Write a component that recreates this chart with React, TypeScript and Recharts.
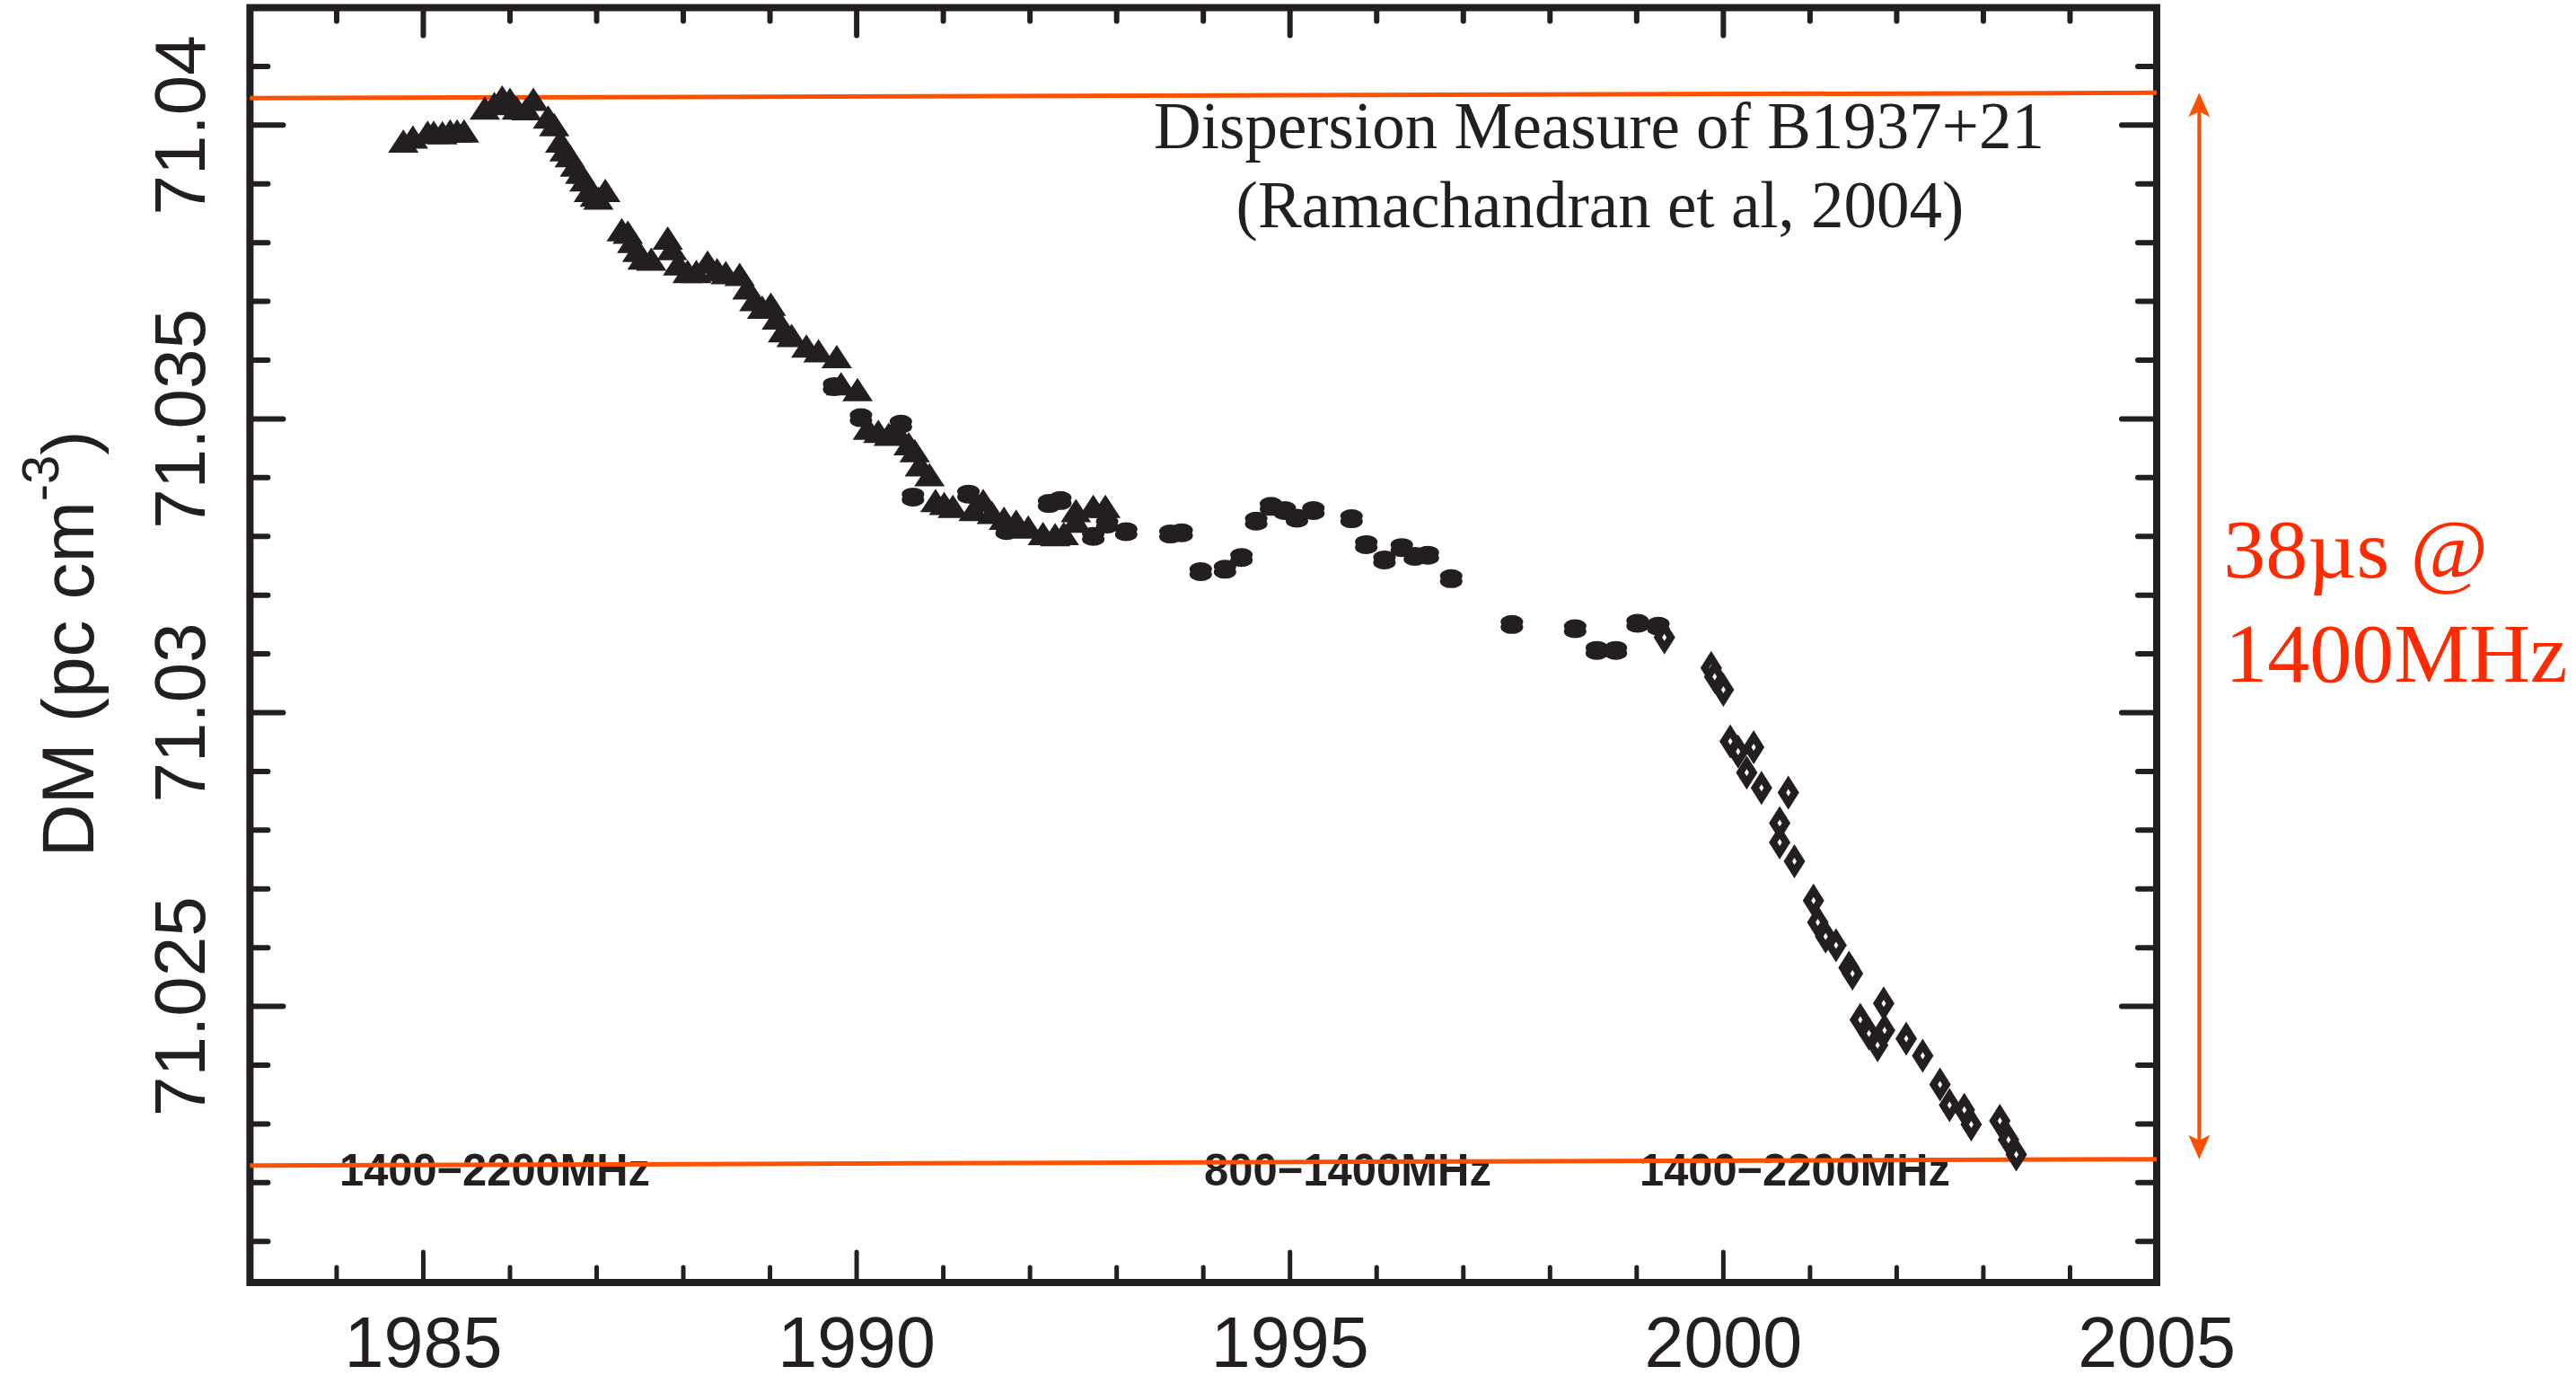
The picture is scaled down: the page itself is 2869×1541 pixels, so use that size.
import React from 'react';
import { ScatterChart, Scatter, XAxis, YAxis, ReferenceLine, ReferenceArea } from 'recharts';

// 1400-2200 MHz, first campaign (filled triangles)
const triYear = [
  1984.77, 1984.88, 1985.05, 1985.12, 1985.22, 1985.31, 1985.39, 1985.47, 1985.71, 1985.82,
  1985.91, 1986.0, 1986.08, 1986.19, 1986.27, 1986.44, 1986.51, 1986.58, 1986.63, 1986.69,
  1986.75, 1986.81, 1986.86, 1986.91, 1986.98, 1987.02, 1987.1, 1987.29, 1987.36, 1987.41,
  1987.47, 1987.53, 1987.63, 1987.82, 1987.87, 1987.94, 1988.05, 1988.15, 1988.28, 1988.39,
  1988.49, 1988.65, 1988.74, 1988.82, 1988.91, 1989.01, 1989.08, 1989.15, 1989.25, 1989.42,
  1989.56, 1989.77, 1989.82, 1990.01, 1990.13, 1990.25, 1990.37, 1990.48, 1990.6, 1990.67,
  1990.73, 1990.84, 1990.91, 1991.01, 1991.11, 1991.35, 1991.46, 1991.56, 1991.7, 1991.84,
  1991.98, 1992.15, 1992.29, 1992.39, 1992.53, 1992.53, 1992.73, 1992.87,
];
const triDM = [
  71.03973, 71.0398, 71.03988, 71.03988, 71.03987, 71.0399, 71.0399, 71.0399, 71.04029, 71.04037,
  71.04048, 71.04044, 71.04029, 71.04028, 71.04044, 71.04014, 71.04001, 71.03973, 71.03958, 71.03948,
  71.03932, 71.0392, 71.03907, 71.03889, 71.03881, 71.03876, 71.03889, 71.03822, 71.03818, 71.03802,
  71.03787, 71.03774, 71.03772, 71.03808, 71.0379, 71.03764, 71.03751, 71.03751, 71.03767, 71.03754,
  71.03749, 71.03746, 71.03723, 71.03703, 71.0369, 71.03695, 71.03672, 71.0365, 71.03642, 71.03624,
  71.03616, 71.03606, 71.0356, 71.0355, 71.03484, 71.03479, 71.03474, 71.03476, 71.03458, 71.03446,
  71.03422, 71.03405, 71.03361, 71.03356, 71.03351, 71.03346, 71.03361, 71.03341, 71.03331, 71.03326,
  71.03316, 71.03305, 71.03303, 71.03305, 71.03344, 71.03326, 71.03351, 71.03351,
];

// 800-1400 MHz (filled dots)
const dotYear = [
  1989.74, 1990.05, 1990.51, 1990.65, 1991.29, 1991.73, 1992.22, 1992.35, 1992.73, 1992.89,
  1993.11, 1993.62, 1993.75, 1993.97, 1994.25, 1994.44, 1994.61, 1994.78, 1994.94, 1995.08,
  1995.27, 1995.71, 1995.88, 1996.09, 1996.29, 1996.44, 1996.59, 1996.86, 1997.56, 1998.29,
  1998.54, 1998.76, 1999.01, 1999.25,
];
const dotDM = [
  71.03555, 71.03502, 71.03491, 71.03367, 71.03372, 71.0331, 71.03356, 71.03361, 71.033, 71.03321,
  71.03308, 71.03304, 71.03306, 71.0324, 71.03244, 71.03264, 71.03326, 71.03351, 71.03344, 71.03331,
  71.03344, 71.0333, 71.03286, 71.0326, 71.03281, 71.03266, 71.03268, 71.03228, 71.0315, 71.03143,
  71.03106, 71.03106, 71.03152, 71.03147,
];

// 1400-2200 MHz, second campaign (open diamonds)
const dmdYear = [
  1999.32, 1999.86, 1999.9, 2000.0, 2000.08, 2000.17, 2000.35, 2000.27, 2000.44, 2000.75,
  2000.65, 2000.65, 2000.82, 2001.04, 2001.09, 2001.18, 2001.3, 2001.45, 2001.49, 2001.58,
  2001.68, 2001.78, 2001.85, 2001.86, 2002.11, 2002.3, 2002.5, 2002.61, 2002.78, 2002.86,
  2003.19, 2003.29, 2003.38,
];
const dmdDM = [
  71.03128, 71.03076, 71.03061, 71.03039, 71.02951, 71.02934, 71.02941, 71.02898, 71.02872, 71.02864,
  71.02812, 71.02779, 71.02747, 71.0268, 71.02643, 71.02619, 71.02604, 71.02566, 71.02556, 71.02477,
  71.02454, 71.02434, 71.02505, 71.02459, 71.02445, 71.02416, 71.02367, 71.02332, 71.02324, 71.02299,
  71.02305, 71.02273, 71.02248,
];

const xDomain = [1983, 2005];
const yDomain = [71.0203, 71.042];
const xTicks = [
  1984, 1985, 1986, 1987, 1988, 1989, 1990, 1991, 1992, 1993, 1994,
  1995, 1996, 1997, 1998, 1999, 2000, 2001, 2002, 2003, 2004, 2005,
];
const yTicks = [
  71.021, 71.022, 71.023, 71.024, 71.025, 71.026, 71.027, 71.028, 71.029, 71.03, 71.031,
  71.032, 71.033, 71.034, 71.035, 71.036, 71.037, 71.038, 71.039, 71.04, 71.041,
];
const yMajor = [71.025, 71.03, 71.035, 71.04];
const yMajorLabels = ['71.025', '71.03', '71.035', '71.04'];

// edges of the 38 us band (left end, right end) and the arrow position
const bandTop = [71.04046, 71.04055];
const bandBottom = [71.02229, 71.0224];
const arrowYear = 2005.49;

const bandLabels = ['1400\u22122200MHz', '800\u22121400MHz', '1400\u22122200MHz'];

const ink = '#231f20';
const orange = '#ff5000';
const sans = "'Liberation Sans', Arial, sans-serif";
const serif = "'Liberation Serif', 'Times New Roman', serif";

const triangles = triYear.map((x, i) => ({ x, y: triDM[i] }));
const dots = dotYear.map((x, i) => ({ x, y: dotDM[i] }));
const diamonds = dmdYear.map((x, i) => ({ x, y: dmdDM[i] }));

const isMajorY = (v: number) => yMajor.findIndex((m) => Math.abs(m - v) < 1e-7);

const BottomTick = ({ x, y, payload }: any) => {
  const major = payload.value % 5 === 0;
  return (
    <g>
      <line x1={x} y1={y} x2={x} y2={y - (major ? 34 : 17)} stroke={ink} strokeWidth={5} strokeLinecap="round" />
      {major && (
        <text x={x} y={y + 94} textAnchor="middle" fontSize={79} fontFamily={sans} fill={ink}>
          {payload.value}
        </text>
      )}
    </g>
  );
};

const TopTick = ({ x, y, payload }: any) => {
  const major = payload.value % 5 === 0;
  return <line x1={x} y1={y} x2={x} y2={y + (major ? 31 : 15)} stroke={ink} strokeWidth={6} strokeLinecap="round" />;
};

const LeftTick = ({ x, y, payload }: any) => {
  const idx = isMajorY(payload.value);
  const lx = x - 50;
  return (
    <g>
      <line x1={x} y1={y} x2={x + (idx >= 0 ? 37 : 20)} y2={y} stroke={ink} strokeWidth={6} strokeLinecap="round" />
      {idx >= 0 && (
        <text
          x={lx}
          y={y}
          transform={`rotate(-90 ${lx} ${y})`}
          textAnchor="middle"
          fontSize={80}
          fontFamily={sans}
          fill={ink}
        >
          {yMajorLabels[idx]}
        </text>
      )}
    </g>
  );
};

const RightTick = ({ x, y, payload }: any) => {
  const major = isMajorY(payload.value) >= 0;
  return <line x1={x} y1={y} x2={x - (major ? 39 : 21)} y2={y} stroke={ink} strokeWidth={6} strokeLinecap="round" />;
};

const TriangleMark = ({ cx, cy }: any) => (
  <polygon points={`${cx},${cy - 13} ${cx + 17},${cy + 13} ${cx - 17},${cy + 13}`} fill={ink} />
);

const DotMark = ({ cx, cy }: any) => (
  <g fill={ink}>
    <ellipse cx={cx} cy={cy - 3} rx={12.5} ry={7.5} />
    <ellipse cx={cx} cy={cy + 3} rx={12.5} ry={7.5} />
  </g>
);

const DiamondMark = ({ cx, cy }: any) => (
  <g>
    <polygon points={`${cx},${cy - 19} ${cx + 12},${cy} ${cx},${cy + 19} ${cx - 12},${cy}`} fill={ink} />
    <polygon points={`${cx},${cy - 4} ${cx + 2.5},${cy} ${cx},${cy + 4} ${cx - 2.5},${cy}`} fill="#fff" />
  </g>
);

// double headed arrow with the delay annotation, placed right of the frame
const SpanArrow = (p: any) => {
  const x = p.x1;
  const top = Math.min(p.y1, p.y2);
  const bot = Math.max(p.y1, p.y2);
  const mid = (top + bot) / 2;
  return (
    <g>
      <line x1={x} y1={top + 20} x2={x} y2={bot - 20} stroke={orange} strokeWidth={4} />
      <polygon points={`${x},${top} ${x + 12},${top + 27} ${x},${top + 21} ${x - 12},${top + 27}`} fill={orange} />
      <polygon points={`${x},${bot} ${x + 12},${bot - 27} ${x},${bot - 21} ${x - 12},${bot - 27}`} fill={orange} />
      <text x={x + 27} y={mid - 54} fontSize={94} fontFamily={serif} fill="#ff2a00">
        38µs @
      </text>
      <text x={x + 29} y={mid + 62} fontSize={94} fontFamily={serif} fill="#ff2a00">
        1400MHz
      </text>
    </g>
  );
};

export default function App() {
  return (
    <div style={{ position: 'absolute', left: 0, top: 0, width: 2869, height: 1541, background: '#fff' }}>
      <svg width={2869} height={1541} style={{ position: 'absolute', left: 0, top: 0 }}>
        <text x={1781} y={165} textAnchor="middle" fontSize={73} fontFamily={serif} fill={ink}>
          Dispersion Measure of B1937+21
        </text>
        <text x={1782} y={253} textAnchor="middle" fontSize={73} fontFamily={serif} fill={ink}>
          (Ramachandran et al, 2004)
        </text>
        <text x={378} y={1320} fontSize={50} fontWeight="bold" fontFamily={sans} fill={ink} textLength={346} lengthAdjust="spacingAndGlyphs">
          {bandLabels[0]}
        </text>
        <text x={1341} y={1320} fontSize={50} fontWeight="bold" fontFamily={sans} fill={ink} textLength={320} lengthAdjust="spacingAndGlyphs">
          {bandLabels[1]}
        </text>
        <text x={1826} y={1320} fontSize={50} fontWeight="bold" fontFamily={sans} fill={ink} textLength={346} lengthAdjust="spacingAndGlyphs">
          {bandLabels[2]}
        </text>
        <text x={104} y={717} transform="rotate(-90 104 717)" textAnchor="middle" fontSize={82} fontFamily={sans} fill={ink}>
          DM (pc cm
          <tspan fontSize={58} dy={-39}>-3</tspan>
          <tspan dy={39}>)</tspan>
        </text>
      </svg>
      <div style={{ position: 'absolute', left: 0, top: 0 }}>
        <ScatterChart width={2869} height={1541} margin={{ top: 7.5, right: 466, bottom: 112, left: 277.4 }}>
          <XAxis
            xAxisId="b"
            type="number"
            dataKey="x"
            domain={xDomain}
            ticks={xTicks}
            interval={0}
            allowDataOverflow
            height={1}
            tickSize={0}
            tickMargin={0}
            axisLine={false}
            tickLine={false}
            tick={(props: any) => <BottomTick {...props} />}
          />
          <XAxis
            xAxisId="t"
            orientation="top"
            type="number"
            dataKey="x"
            domain={xDomain}
            ticks={xTicks}
            interval={0}
            allowDataOverflow
            height={1}
            tickSize={0}
            tickMargin={0}
            axisLine={false}
            tickLine={false}
            tick={(props: any) => <TopTick {...props} />}
          />
          <YAxis
            yAxisId="l"
            type="number"
            dataKey="y"
            domain={yDomain}
            ticks={yTicks}
            interval={0}
            allowDataOverflow
            width={1}
            tickSize={0}
            tickMargin={0}
            axisLine={false}
            tickLine={false}
            tick={(props: any) => <LeftTick {...props} />}
          />
          <YAxis
            yAxisId="r"
            orientation="right"
            type="number"
            dataKey="y"
            domain={yDomain}
            ticks={yTicks}
            interval={0}
            allowDataOverflow
            width={1}
            tickSize={0}
            tickMargin={0}
            axisLine={false}
            tickLine={false}
            tick={(props: any) => <RightTick {...props} />}
          />
          <ReferenceArea
            xAxisId="b"
            yAxisId="l"
            x1={xDomain[0]}
            x2={xDomain[1]}
            y1={yDomain[0]}
            y2={yDomain[1]}
            fill="none"
            stroke={ink}
            strokeWidth={8}
            ifOverflow="visible"
          />
          <Scatter xAxisId="b" yAxisId="l" data={triangles} shape={TriangleMark} isAnimationActive={false} />
          <Scatter xAxisId="b" yAxisId="l" data={dots} shape={DotMark} isAnimationActive={false} />
          <Scatter xAxisId="b" yAxisId="l" data={diamonds} shape={DiamondMark} isAnimationActive={false} />
          <ReferenceLine
            xAxisId="b"
            yAxisId="l"
            segment={[{ x: xDomain[0], y: bandTop[0] }, { x: xDomain[1], y: bandTop[1] }]}
            stroke={orange}
            strokeWidth={5}
          />
          <ReferenceLine
            xAxisId="b"
            yAxisId="l"
            segment={[{ x: xDomain[0], y: bandBottom[0] }, { x: xDomain[1], y: bandBottom[1] }]}
            stroke={orange}
            strokeWidth={5}
          />
          <ReferenceLine
            xAxisId="b"
            yAxisId="l"
            segment={[{ x: arrowYear, y: bandTop[1] }, { x: arrowYear, y: bandBottom[1] }]}
            ifOverflow="visible"
            shape={SpanArrow}
          />
        </ScatterChart>
      </div>
    </div>
  );
}
